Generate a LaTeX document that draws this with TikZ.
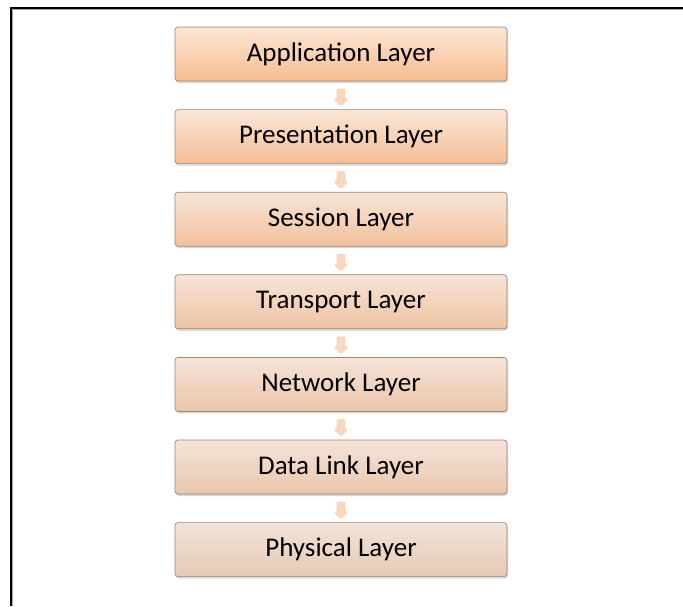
\documentclass[tikz,border=0pt]{standalone}
\usepackage{fontspec}
\setmainfont{Carlito}
\usetikzlibrary{shapes.arrows,shadows,calc}
\definecolor{topA}{HTML}{FCE6D5}
\definecolor{botA}{HTML}{F7BC90}
\definecolor{topZ}{HTML}{F2E3D9}
\definecolor{botZ}{HTML}{E6C9B4}
\definecolor{edgecol}{HTML}{9E8676}
\definecolor{arrowcol}{HTML}{F5C9AA}
\tikzset{
  x=1pt, y=1pt,
  layerbox/.style={draw=edgecol, line width=0.7pt, rounded corners=3pt,
    minimum width=332pt, minimum height=54pt, inner sep=0pt,
    font=\fontsize{27}{30}\selectfont, text=black,
    drop shadow={shadow xshift=0.8pt, shadow yshift=-2pt, opacity=0.25, fill=black!60}},
  linkarrow/.style={single arrow, fill=arrowcol, draw=none, opacity=0.75,
    rotate=-90, minimum height=18pt, minimum width=15pt,
    single arrow head extend=1.5pt, inner sep=2pt, rounded corners=2pt}
}
\begin{document}
\begin{tikzpicture}
  \useasboundingbox (0,0) rectangle (683,-606);
  % frame along the left and top edges
  \draw[black!35, line width=1pt] (12.2,-606) -- (12.2,-9.2) -- (683,-9.2);
  \draw[black, line width=1.6pt] (10.8,-606) -- (10.8,-7.8) -- (683,-7.8);
  % stack of layers, shading fades from orange to greyish peach downward
  \foreach \name/\label [count=\i from 0] in {app/Application Layer,pres/Presentation Layer,sess/Session Layer,trans/Transport Layer,net/Network Layer,dl/Data Link Layer,phy/Physical Layer}{
    \pgfmathsetmacro{\mix}{100-\i*100/6}
    \colorlet{curtop}{topA!\mix!topZ}
    \colorlet{curbot}{botA!\mix!botZ}
    \node[layerbox, top color=curtop, bottom color=curbot] (\name) at (341,{-54-\i*82.6}) {\label};
  }
  % small connector arrows between consecutive layers
  \foreach \a/\b in {app/pres,pres/sess,sess/trans,trans/net,net/dl,dl/phy}{
    \node[linkarrow] (\a-\b) at ($(\a.south)!0.5!(\b.north)$) {};
  }
\end{tikzpicture}
\end{document}
